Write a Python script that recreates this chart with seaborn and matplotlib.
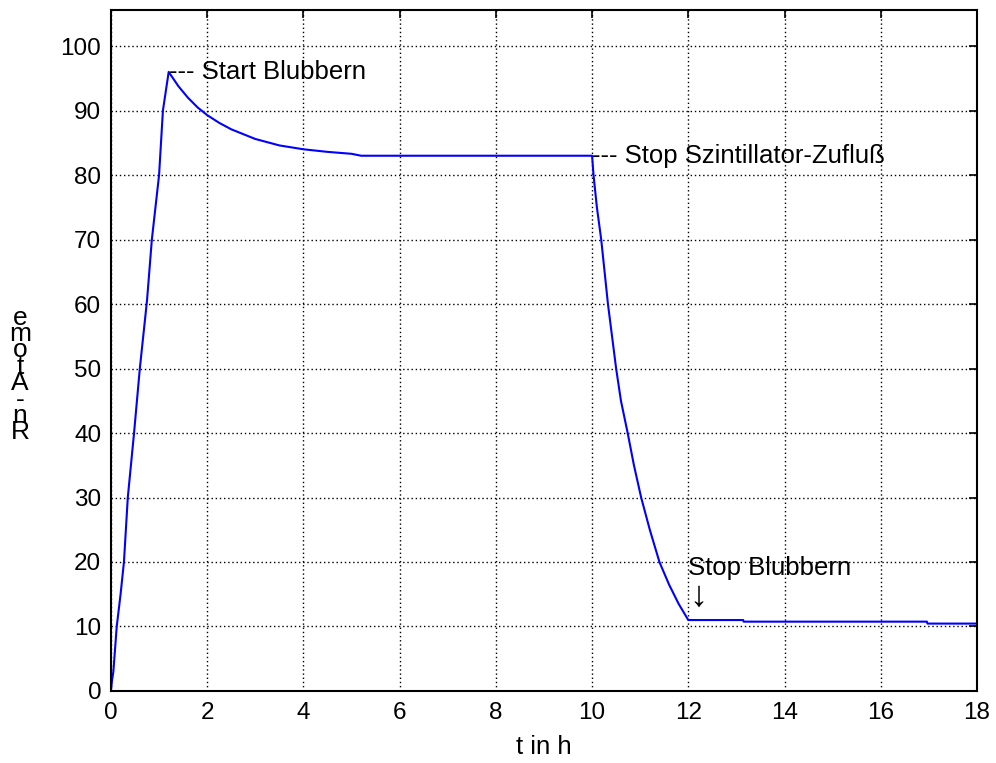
import numpy as np
import pandas as pd
import matplotlib
matplotlib.use("Agg")
import matplotlib.pyplot as plt
import seaborn as sns

# Rn count curve
t_h = [0.0, 0.02, 0.05, 0.12, 0.2, 0.27, 0.35, 0.48, 0.6, 0.75, 0.85, 1.0, 1.08, 1.2,
       1.4, 1.6, 1.8, 2.0, 2.25, 2.5, 3.0, 3.5, 4.0, 4.5, 5.0, 5.2, 10.0,
       10.03, 10.1, 10.19, 10.33, 10.5, 10.6, 10.74, 10.87, 11.02, 11.2, 11.4,
       11.6, 11.8, 12.0,
       13.14, 13.15, 16.96, 16.97, 18.0]
rn_atome = [0.0, 1.5, 3.0, 10.0, 15.0, 20.0, 30.0, 40.0, 50.0, 60.6, 70.0, 80.0, 90.0, 96.0,
            93.8, 92.0, 90.5, 89.3, 88.1, 87.1, 85.6, 84.6, 84.0, 83.6, 83.3, 83.0, 83.0,
            80.0, 75.0, 70.0, 60.0, 50.0, 45.0, 40.0, 35.0, 30.0, 25.0, 20.0,
            16.5, 13.5, 11.0,
            11.0, 10.75, 10.75, 10.45, 10.45]

df = pd.DataFrame({"t": t_h, "rn": rn_atome})

sns.set_style("white")
plt.rcParams["font.family"] = ["Liberation Sans", "DejaVu Sans"]
plt.rcParams["text.color"] = "black"
plt.rcParams["axes.labelcolor"] = "black"

fig = plt.figure(figsize=(9.96, 7.63), dpi=100)
ax = fig.add_axes([0.1114, 0.0944, 0.8695, 0.8925])

sns.lineplot(data=df, x="t", y="rn", ax=ax, color="#0000ff", linewidth=1.5,
             sort=False, estimator=None)

ax.set_xlim(0, 18)
ax.set_ylim(0, 105.6)
ax.set_xticks(range(0, 19, 2))
ax.set_yticks(range(0, 101, 10))
ax.grid(True, color="black", linestyle=(0, (1, 2)), linewidth=1.0)
ax.tick_params(direction="in", length=6, width=1.2, top=True, right=True,
               labelsize=17.5, colors="black")
ax.tick_params(axis="y", pad=7)
ax.tick_params(axis="x", pad=8)
for s in ax.spines.values():
    s.set_color("black")
    s.set_linewidth(1.5)

ax.set_xlabel("t in h", fontsize=18.5, labelpad=8, color="black")
ax.set_ylabel("e\nm\no\nt\nA\n-\nn\nR", rotation=0, fontsize=19,
              linespacing=0.6, va="center", ha="center", color="black")
ax.yaxis.set_label_coords(-0.105, 0.464)

ax.text(1.2, 96, "--- Start Blubbern", fontsize=18.5, va="center", ha="left")
ax.text(10.0, 83, "--- Stop Szintillator-Zufluß", fontsize=18.5, va="center", ha="left")
ax.text(12.0, 18.0, "Stop Blubbern", fontsize=18.5, va="baseline", ha="left")
ax.text(12.2, 12.0, "\u2193", fontsize=26, va="bottom", ha="center")

fig.savefig("out.png", dpi=100)
